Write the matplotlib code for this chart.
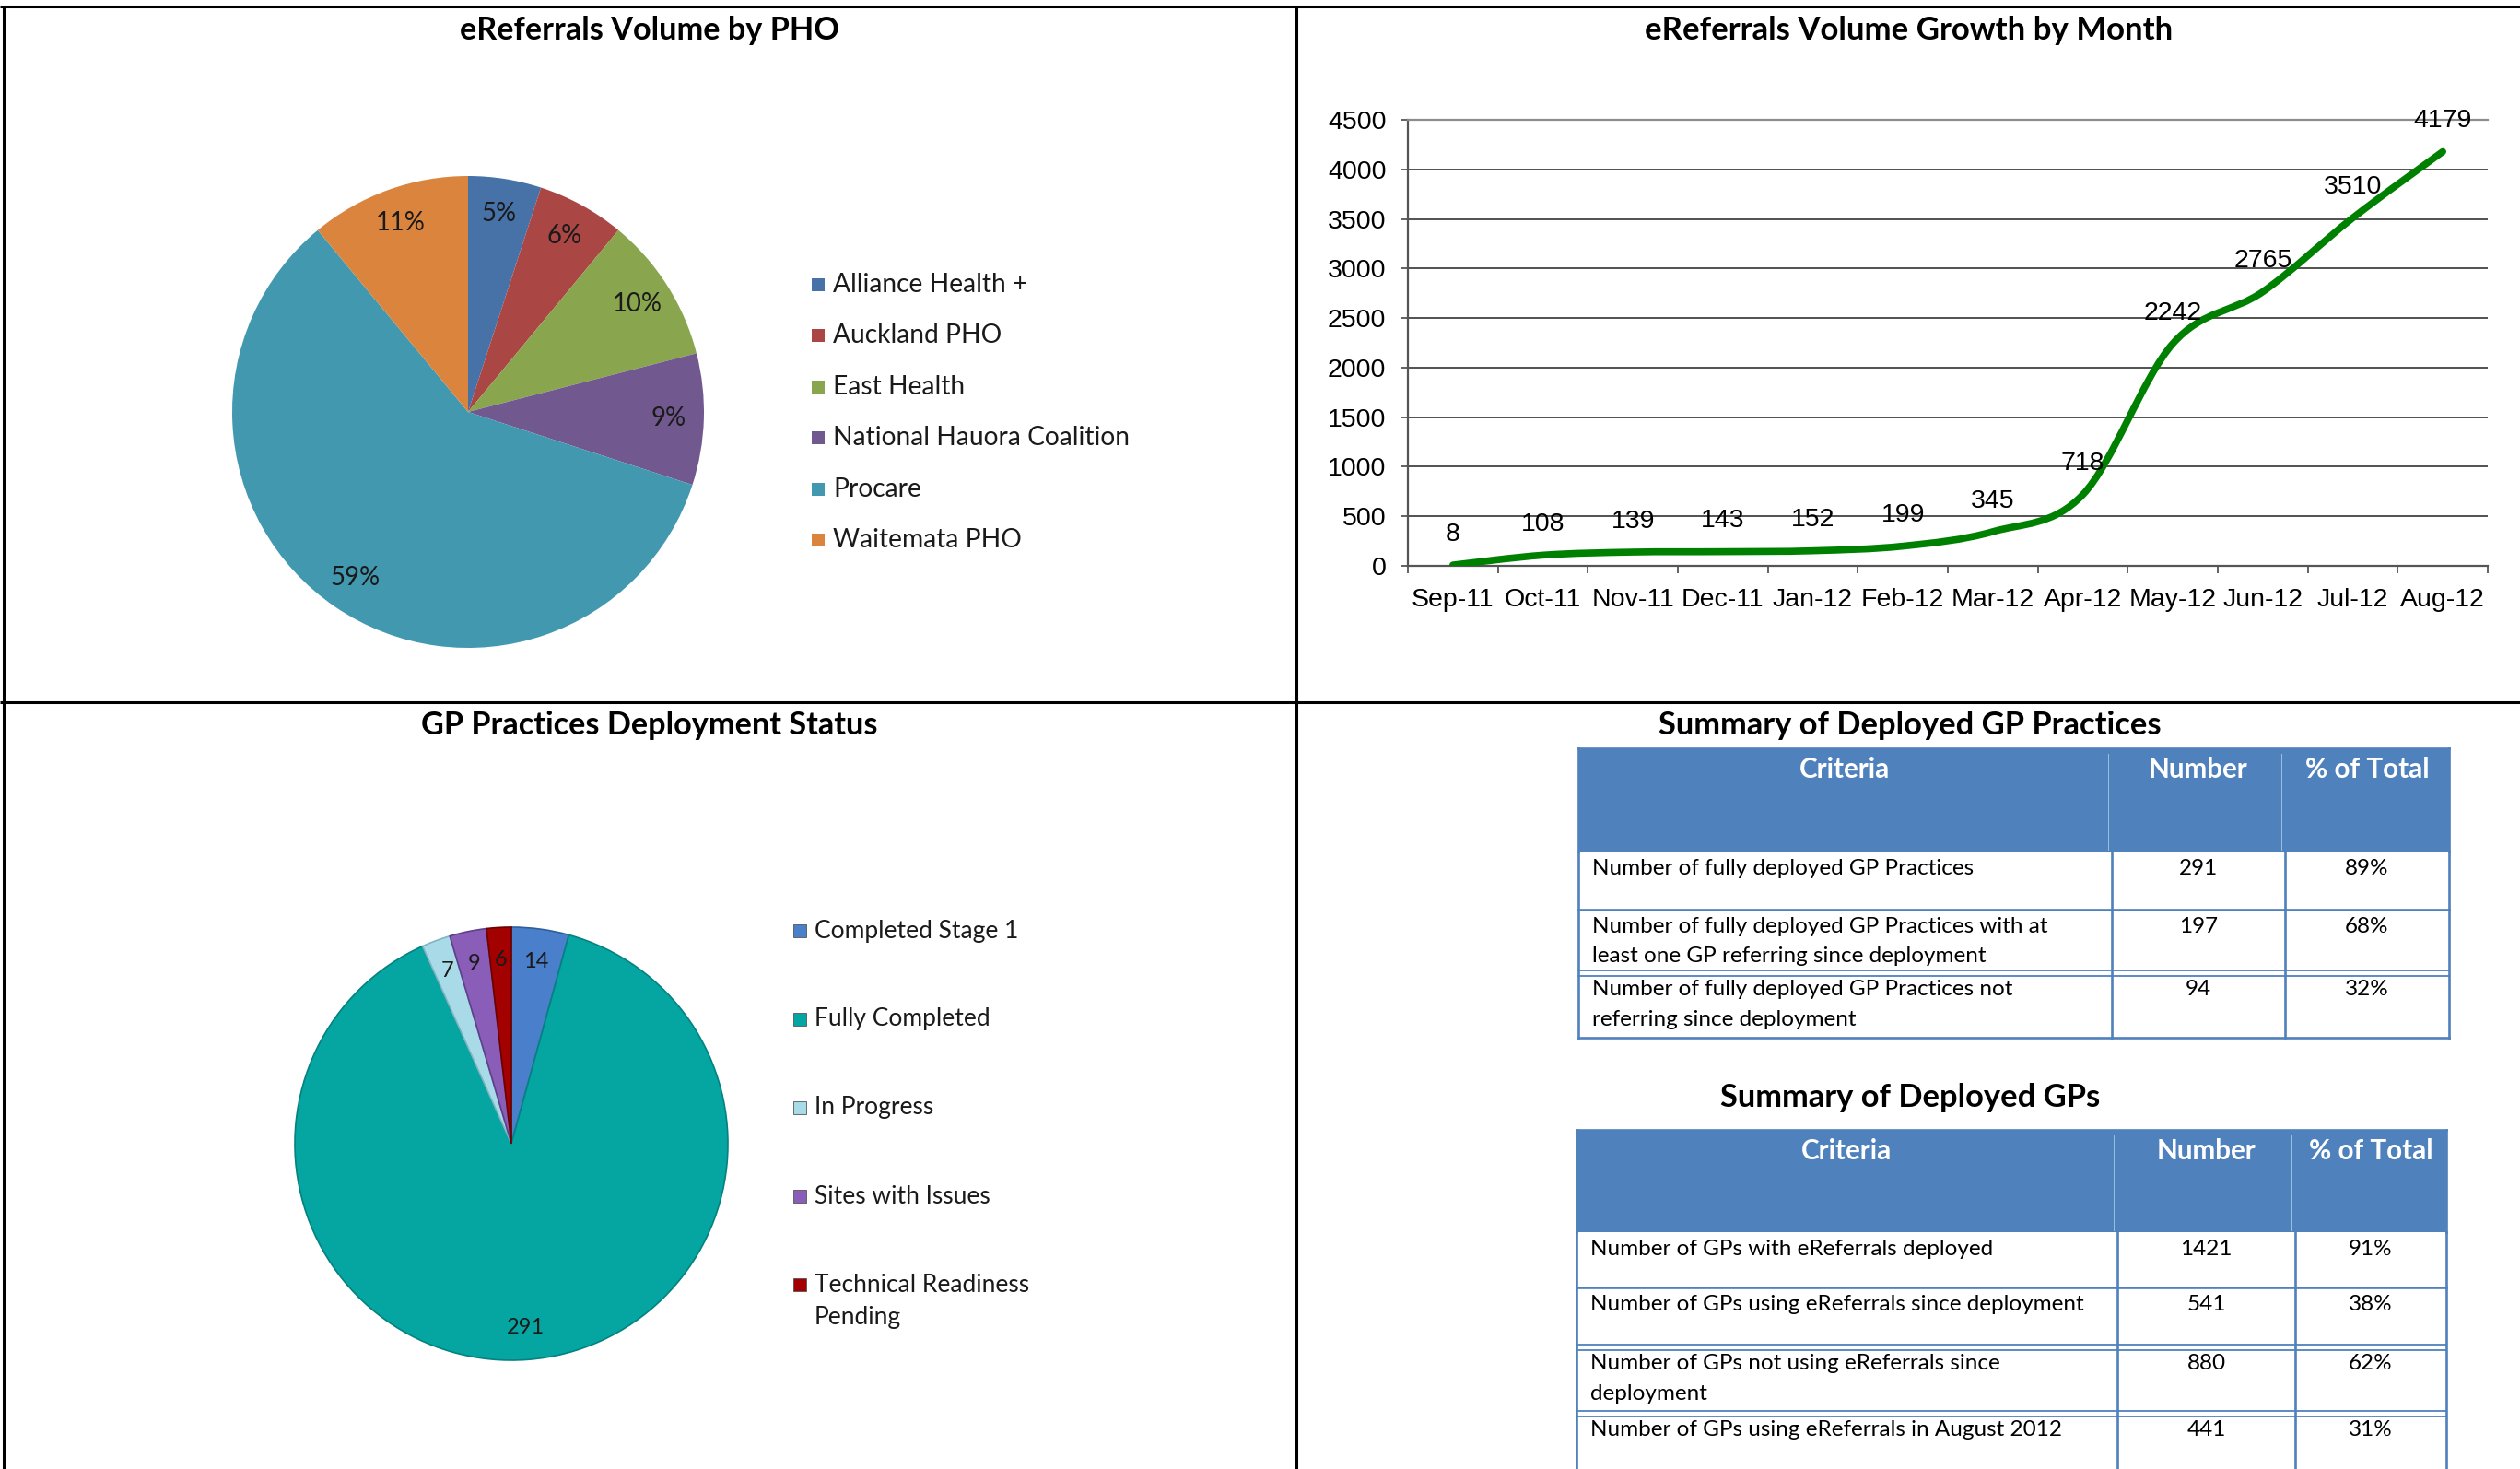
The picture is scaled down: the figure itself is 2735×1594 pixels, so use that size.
import numpy as np
import matplotlib
matplotlib.use("Agg")
import matplotlib.pyplot as plt
from matplotlib.path import Path
from matplotlib.patches import PathPatch, Rectangle
from matplotlib.lines import Line2D

# ---------------- data ----------------
pho_names = ["Alliance Health +", "Auckland PHO", "East Health",
             "National Hauora Coalition", "Procare", "Waitemata PHO"]
pho_share = [5, 6, 10, 9, 59, 11]
pho_colors = ["#4672A8", "#AA4644", "#89A54E", "#71588F", "#4198AF", "#DB843D"]

months = ["Sep-11", "Oct-11", "Nov-11", "Dec-11", "Jan-12", "Feb-12",
          "Mar-12", "Apr-12", "May-12", "Jun-12", "Jul-12", "Aug-12"]
volume = [8, 108, 139, 143, 152, 199, 345, 718, 2242, 2765, 3510, 4179]

status_names = ["Completed Stage 1", "Fully Completed", "In Progress",
                "Sites with Issues", "Technical Readiness\nPending"]
status_counts = [14, 291, 7, 9, 6]
status_colors = ["#4A7FCB", "#05A5A2", "#A8DBE7", "#8A5DB9", "#A30000"]

t1_title = "Summary of Deployed GP Practices"
t1_header = ["Criteria", "Number", "% of Total"]
t1_criteria = ["Number of fully deployed GP Practices",
               "Number of fully deployed GP Practices with at\nleast one GP referring since deployment",
               "Number of fully deployed GP Practices not\nreferring since deployment"]
t1_number = ["291", "197", "94"]
t1_pct = ["89%", "68%", "32%"]

t2_title = "Summary of Deployed GPs"
t2_header = ["Criteria", "Number", "% of Total"]
t2_criteria = ["Number of GPs with eReferrals deployed",
               "Number of GPs using eReferrals since deployment",
               "Number of GPs not using eReferrals since\ndeployment",
               "Number of GPs using eReferrals in August 2012"]
t2_number = ["1421", "541", "880", "441"]
t2_pct = ["91%", "38%", "62%", "31%"]

# ---------------- setup ----------------
CAL = ["Lato", "DejaVu Sans"]
ARI = ["Liberation Sans", "DejaVu Sans"]
W, H = 2735, 1594
fig = plt.figure(figsize=(W / 100, H / 100), dpi=100)
fig.patch.set_facecolor("white")
bg = fig.add_axes([0, 0, 1, 1])
bg.set_xlim(0, W)
bg.set_ylim(H, 0)
bg.axis("off")
renderer = fig.canvas.get_renderer()


def fit(text, target, family=CAL, weight="normal"):
    t = bg.text(0, 0, text, fontsize=20, family=family, weight=weight)
    w = t.get_window_extent(renderer).width
    t.remove()
    return 20 * target / w


def px_axes(x0, y0, x1, y1, **kw):
    return fig.add_axes([x0 / W, 1 - y1 / H, (x1 - x0) / W, (y1 - y0) / H], **kw)


# panel borders
blk = dict(color="black", lw=2.2, solid_capstyle="butt")
bg.plot([0, W], [7, 7], **blk)
bg.plot([0, W], [762, 762], **blk)
bg.plot([4, 4], [7, H], **blk)
bg.plot([1407, 1407], [7, H], **blk)

# titles
titles = [("eReferrals Volume by PHO", 705, 33, 411),
          ("eReferrals Volume Growth by Month", 2072, 33, 572),
          ("GP Practices Deployment Status", 705, 787, 496),
          (t1_title, 2073, 787, 545),
          (t2_title, 2073, 1191, 412)]
for txt, x, y, w in titles:
    bg.text(x, y, txt, ha="center", va="center", family=CAL, weight="bold",
            fontsize=fit(txt, w, weight="bold"), color="black")

# ---------------- pie 1 ----------------
cx, cy, r = 508, 447, 256
ax1 = px_axes(cx - r, cy - r, cx + r, cy + r)
w1, _, at1 = ax1.pie(pho_share, colors=pho_colors, startangle=90, counterclock=False,
                     autopct=lambda p: f"{p:.0f}%", pctdistance=0.85,
                     wedgeprops=dict(linewidth=0))
fs = fit("59%", 54)
for t in at1:
    t.set_fontsize(fs)
    t.set_family(CAL)
    t.set_color("#1a1a1a")
ax1.set_xlim(-1, 1)
ax1.set_ylim(-1, 1)
ax1.set_aspect("equal")

fs_leg1 = fit("National Hauora Coalition", 321)
for i, (name, col) in enumerate(zip(pho_names, pho_colors)):
    y = 309 + i * 55.4
    bg.add_patch(Rectangle((881, y - 7), 14, 14, facecolor=col, edgecolor="none"))
    bg.text(904, y, name, ha="left", va="center", family=CAL, fontsize=fs_leg1,
            color="#1a1a1a")

# ---------------- line chart ----------------
ax2 = px_axes(1528, 130, 2700, 614)
x = np.arange(len(months))
pts = np.column_stack([x, volume]).astype(float)
verts = [tuple(pts[0])]
codes = [Path.MOVETO]
n = len(pts)
for i in range(n - 1):
    p0 = pts[max(i - 1, 0)]
    p1 = pts[i]
    p2 = pts[i + 1]
    p3 = pts[min(i + 2, n - 1)]
    c1 = p1 + (p2 - p0) / 6.0
    c2 = p2 - (p3 - p1) / 6.0
    verts += [tuple(c1), tuple(c2), tuple(p2)]
    codes += [Path.CURVE4] * 3
ax2.add_patch(PathPatch(Path(verts, codes), fill=False, edgecolor="#008000",
                        lw=5.5, capstyle="round", joinstyle="round", zorder=3))
for xi, v in zip(x, volume):
    ax2.annotate(f"{v}", (xi, v), xytext=(0, 24), textcoords="offset points",
                 ha="center", va="center", family=ARI, fontsize=20.5, color="black",
                 zorder=4)
ax2.set_xlim(-0.5, len(months) - 0.5)
ax2.set_ylim(0, 4500)
ax2.set_yticks(np.arange(0, 4501, 500))
ax2.set_xticks(np.arange(-0.5, len(months), 1.0))
ax2.set_xticklabels([])
ax2.set_xticks(x, minor=True)
ax2.set_xticklabels(months, minor=True)
ax2.tick_params(axis="x", which="major", length=6, width=1.3, color="#555555", direction="out")
ax2.tick_params(axis="x", which="minor", length=0, pad=17, labelsize=20.5)
ax2.tick_params(axis="y", length=6, width=1.3, color="#555555", direction="out", pad=11,
                labelsize=20.5)
for lab in ax2.get_xticklabels(minor=True) + ax2.get_yticklabels():
    lab.set_family(ARI)
ax2.grid(axis="y", color="#222222", lw=1.1)
ax2.set_axisbelow(True)
ax2.spines["right"].set_visible(False)
ax2.spines["top"].set_color("#8c8c8c")
ax2.spines["top"].set_linewidth(1.6)
ax2.spines["left"].set_color("#555555")
ax2.spines["left"].set_linewidth(1.6)
ax2.spines["bottom"].set_color("#555555")
ax2.spines["bottom"].set_linewidth(1.6)

# ---------------- pie 2 ----------------
cx, cy, r = 555, 1241, 235
ax3 = px_axes(cx - r, cy - r, cx + r, cy + r)
total = sum(status_counts)
w3, _, at3 = ax3.pie(status_counts, colors=status_colors, startangle=90, counterclock=False,
                     autopct=lambda p: f"{round(p * total / 100)}", pctdistance=0.85,
                     wedgeprops=dict(linewidth=1.2, edgecolor="#3a6f70"))
edge_cols = ["#2f5f9a", "#038280", "#7fb4c2", "#5f3f8a", "#6d0000"]
for wd, ec in zip(w3, edge_cols):
    wd.set_edgecolor(ec)
fs = fit("291", 41)
for t in at3:
    t.set_fontsize(fs)
    t.set_family(CAL)
    t.set_color("#1a1a1a")
ax3.set_xlim(-1, 1)
ax3.set_ylim(-1, 1)
ax3.set_aspect("equal")

fs_leg2 = fit("Technical Readiness", 234)
for i, (name, col) in enumerate(zip(status_names, status_colors)):
    y = 1010 + i * 96
    bg.add_patch(Rectangle((861, y - 7), 14, 14, facecolor=col, edgecolor="#555555", lw=0.6))
    for k, line in enumerate(name.split("\n")):
        bg.text(884, y + k * 36, line, ha="left", va="center", family=CAL,
                fontsize=fs_leg2, color="#1a1a1a")

# ---------------- tables ----------------
BLUE = "#4F81BD"


def draw_table(header, crit, num, pct, xs, ys, doubles, body_ref, body_w, head_fs):
    x0, x1, x2, x3 = xs
    bg.add_patch(Rectangle((x0, ys[0]), x3 - x0, ys[1] - ys[0], facecolor=BLUE,
                           edgecolor="none", zorder=2))
    for xx in (x1, x2):
        bg.plot([xx - 4, xx - 4], [ys[0] + 6, ys[1] - 2], color="#9fbde0", lw=0.7, zorder=3)
    centers = [(x0 + x1) / 2, (x1 + x2) / 2, (x2 + x3) / 2]
    for c, h in zip(centers, header):
        bg.text(c, ys[0] + 23, h, ha="center", va="center", color="white",
                family=CAL, weight="bold", fontsize=head_fs, zorder=4)
    bfs = fit(body_ref, body_w)
    lw = 1.9
    # outer + column lines of body
    for xx in (x0, x1, x2, x3):
        bg.plot([xx, xx], [ys[1], ys[-1]], color=BLUE, lw=lw, zorder=3,
                solid_capstyle="projecting")
    bg.plot([x0, x3], [ys[0], ys[0]], color=BLUE, lw=lw, zorder=3)
    bg.plot([x0, x0], [ys[0], ys[1]], color=BLUE, lw=lw, zorder=3)
    bg.plot([x3, x3], [ys[0], ys[1]], color=BLUE, lw=lw, zorder=3)
    for j, yy in enumerate(ys[2:]):
        if (j + 2) in doubles:
            bg.plot([x0, x3], [yy - 3, yy - 3], color=BLUE, lw=1.3, zorder=3)
            bg.plot([x0, x3], [yy + 3, yy + 3], color=BLUE, lw=1.3, zorder=3)
        else:
            bg.plot([x0, x3], [yy, yy], color=BLUE, lw=lw, zorder=3)
    for i, (c, nm, pc) in enumerate(zip(crit, num, pct)):
        ytop = ys[i + 1] + 18
        for k, line in enumerate(c.split("\n")):
            bg.text(x0 + 15, ytop + k * 32.5, line, ha="left", va="center",
                    family=CAL, fontsize=bfs, color="black", zorder=4)
        bg.text(centers[1], ytop, nm, ha="center", va="center", family=CAL,
                fontsize=bfs, color="black", zorder=4)
        bg.text(centers[2], ytop, pc, ha="center", va="center", family=CAL,
                fontsize=bfs, color="black", zorder=4)


head_fs = fit("Number", 108, weight="bold")
draw_table(t1_header, t1_criteria, t1_number, t1_pct,
           (1713, 2292, 2480, 2658), [812, 924, 987, 1056, 1126], {3},
           "Number of fully deployed GP Practices", 415, head_fs)
draw_table(t2_header, t2_criteria, t2_number, t2_pct,
           (1711, 2298, 2491, 2655), [1226, 1337, 1397, 1462, 1534, 1640], {3, 4},
           "Number of GPs with eReferrals deployed", 439, head_fs)

fig.savefig("out.png", dpi=100, facecolor="white")
